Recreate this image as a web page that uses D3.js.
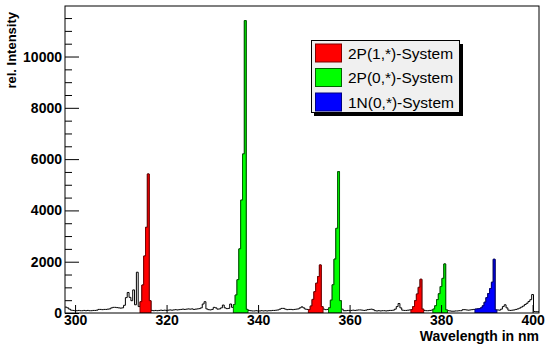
<!DOCTYPE html>
<html><head><meta charset="utf-8">
<script src="https://cdn.jsdelivr.net/npm/d3@7"></script>
<style>body{margin:0;background:#fff}svg{display:block}</style>
</head><body>
<svg id="c" width="545" height="344"></svg>
<script>
// ---- data ----
const binStart = 297.8;   // nm, left edge of first bin
const binWidth = 0.4;     // nm
const intensity = [
  230, 200, 150, 110, 100, 90, 90, 100, 90, 90,
  100, 90, 100, 90, 90, 100, 100, 110, 140, 140,
  130, 140, 140, 150, 160, 200, 220, 220, 210, 200,
  190, 200, 300, 600, 800, 610, 480, 900, 320, 1590,
  250, 440, 1090, 2220, 3340, 5420, 480, 100, 90, 100,
  90, 100, 110, 100, 110, 100, 110, 120, 110, 120,
  130, 120, 130, 140, 150, 140, 150, 160, 150, 160,
  140, 150, 160, 170, 200, 350, 440, 160, 130, 120,
  140, 220, 200, 150, 160, 200, 310, 200, 170, 180,
  350, 220, 330, 700, 1300, 2500, 4400, 6200, 11400, 140,
  100, 90, 80, 80, 90, 80, 80, 90, 80, 90,
  80, 90, 90, 100, 100, 110, 120, 150, 180, 180,
  150, 130, 140, 140, 130, 140, 150, 160, 200, 240,
  200, 150, 140, 130, 270, 530, 830, 1160, 1420, 1873,
  250, 150, 130, 140, 200, 500, 1100, 2100, 3300, 5510,
  480, 150, 90, 90, 100, 100, 100, 110, 100, 110,
  120, 120, 110, 100, 110, 130, 140, 150, 130, 90,
  80, 90, 80, 90, 90, 80, 90, 100, 100, 110,
  150, 250, 370, 200, 110, 100, 100, 110, 120, 130,
  250, 480, 740, 1000, 1315, 150, 100, 90, 90, 100,
  110, 150, 280, 520, 750, 1030, 1350, 1912, 120, 90,
  80, 70, 70, 80, 80, 90, 90, 130, 130, 120,
  110, 120, 130, 140, 150, 160, 170, 200, 280, 420,
  600, 760, 950, 1200, 2095, 120, 120, 110, 150, 250,
  320, 200, 110, 100, 110, 120, 140, 160, 190, 230,
  270, 330, 380, 450, 520, 720, 60, 50, 50
];
const systemNames = ["2P(1,*)-System", "2P(0,*)-System", "1N(0,*)-System"];
const systemColors = ["#ff0000", "#00ff00", "#0000ff"];
const systemEdges = ["#800000", "#006400", "#000080"];
const bandSystem = [0, 1, 0, 1, 0, 1, 2];
const bandFrom = [314.2, 334.6, 351.0, 355.4, 373.4, 378.2, 387.4];
const bandTo   = [316.6, 337.8, 354.2, 358.2, 376.2, 381.4, 392.2];
const xTicks = [300, 320, 340, 360, 380, 400];
const yTicks = [0, 2000, 4000, 6000, 8000, 10000];
const yMinorTicks = [500,1000,1500,2500,3000,3500,4500,5000,5500,6500,7000,7500,8500,9000,9500,10500,11000,11500];
const xTitle = "Wavelength in nm";
const yTitle = "rel. Intensity";
const yMax = 11970;

// ---- layout ----
const L = 65, R = 539, T = 6, B = 313;
const font = "'Liberation Sans', Arial, Helvetica, sans-serif";
const svg = d3.select("#c");
const nBins = intensity.length;
const binEnd = binStart + nBins * binWidth;
const x = d3.scaleLinear().domain([binStart, binEnd]).range([L, R]);
const y = d3.scaleLinear().domain([0, yMax]).range([B, T]);

const bins = intensity.map((v, i) => ({x0: binStart + i * binWidth, v}));
const stepPts = bins.concat([{x0: binEnd, v: intensity[nBins - 1]}]);

svg.append("defs").append("clipPath").attr("id", "clip")
  .append("rect").attr("x", L).attr("y", T).attr("width", R - L).attr("height", B - T);

const plot = svg.append("g").attr("clip-path", "url(#clip)");

// full spectrum outline
plot.append("path")
  .attr("d", d3.line().x(d => x(d.x0)).y(d => y(d.v)).curve(d3.curveStepAfter)(stepPts))
  .attr("fill", "none").attr("stroke", "#000").attr("stroke-width", 1);

// coloured bands
bandFrom.forEach((f, j) => {
  const t = bandTo[j];
  const sel = bins.filter(b => b.x0 >= f - 1e-6 && b.x0 + binWidth <= t + 1e-6);
  const pts = sel.concat([{x0: t, v: sel[sel.length - 1].v}]);
  const area = d3.area().x(d => x(d.x0)).y0(y(0)).y1(d => y(d.v)).curve(d3.curveStepAfter);
  plot.append("path").attr("d", area(pts))
    .attr("fill", systemColors[bandSystem[j]])
    .attr("stroke", systemEdges[bandSystem[j]]).attr("stroke-width", 1);
});

// axes
svg.append("g").attr("transform", `translate(${L},0)`)
  .call(d3.axisLeft(y).tickValues(yTicks).tickSize(-14).tickPadding(3).tickFormat(d3.format("d")));
svg.append("g").attr("transform", `translate(${L},0)`)
  .call(d3.axisLeft(y).tickValues(yMinorTicks).tickSize(-7).tickFormat(""));
svg.append("g").attr("transform", `translate(0,${B})`)
  .call(d3.axisBottom(x).tickValues(xTicks).tickSize(-8).tickPadding(2).tickFormat(d3.format("d")));
svg.selectAll(".domain").remove();
svg.selectAll(".tick line").attr("stroke", "#000");
svg.selectAll(".tick text").attr("font-family", font).attr("font-weight", "bold")
  .attr("font-size", 14).attr("fill", "#000");

// frame
svg.append("rect").attr("x", L).attr("y", T).attr("width", R - L).attr("height", B - T)
  .attr("fill", "none").attr("stroke", "#000").attr("stroke-width", 1);

// titles
svg.append("text").attr("x", R).attr("y", 341).attr("text-anchor", "end")
  .attr("font-family", font).attr("font-weight", "bold").attr("font-size", 14).text(xTitle);
svg.append("text").attr("transform", "translate(16,12) rotate(-90)").attr("text-anchor", "end")
  .attr("font-family", font).attr("font-weight", "bold").attr("font-size", 13).text(yTitle);

// legend
const lg = svg.append("g");
lg.append("rect").attr("x", 314).attr("y", 44).attr("width", 149).attr("height", 72).attr("fill", "#000");
lg.append("rect").attr("x", 311.5).attr("y", 40.5).attr("width", 148).attr("height", 72)
  .attr("fill", "#f0f0f0").attr("stroke", "#000").attr("stroke-width", 1);
systemNames.forEach((n, i) => {
  const cy = 53 + i * 24.5;
  lg.append("rect").attr("x", 315.5).attr("y", cy - 9).attr("width", 26).attr("height", 18)
    .attr("fill", systemColors[i]).attr("stroke", systemEdges[i]).attr("stroke-width", 1);
  lg.append("text").attr("x", 348).attr("y", cy + 5.5).attr("font-family", font)
    .attr("font-size", 15.5).attr("fill", "#000").text(n);
});
</script>
</body></html>
